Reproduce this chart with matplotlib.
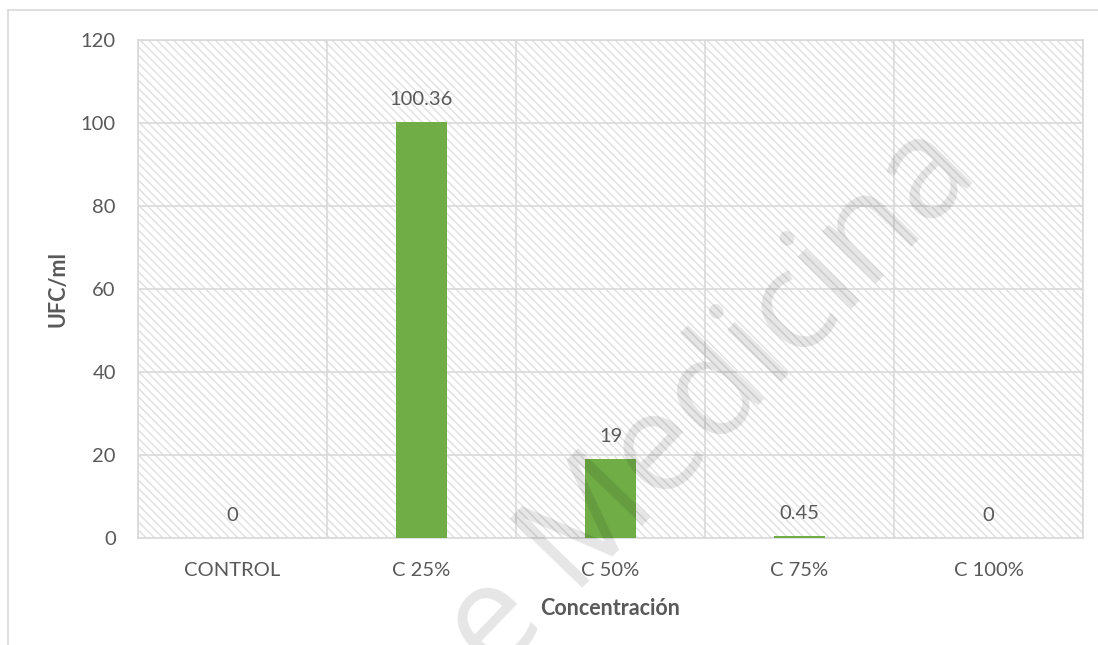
import matplotlib
matplotlib.use("Agg")
import matplotlib.pyplot as plt
from matplotlib.patches import Rectangle
from matplotlib.lines import Line2D

categories = ["CONTROL", "C 25%", "C 50%", "C 75%", "C 100%"]
values = [0, 100.36, 19, 0.45, 0]
value_labels = ["0", "100.36", "19", "0.45", "0"]
yticks = [0, 20, 40, 60, 80, 100, 120]

W, H = 1098, 645
fig = plt.figure(figsize=(W / 100, H / 100), dpi=100)
plt.rcParams['hatch.linewidth'] = 1.0
font = ['Lato', 'DejaVu Sans']
txt = '#595959'
grid = '#d9d9d9'
fs = 14.5

# outer chart border (partially cropped)
fig.add_artist(Line2D([8 / W, 1], [1 - 10 / H, 1 - 10 / H], color=grid, lw=1.2, transform=fig.transFigure))
fig.add_artist(Line2D([8 / W, 8 / W], [0, 1 - 10 / H], color=grid, lw=1.2, transform=fig.transFigure))

ax = fig.add_axes([138 / W, 1 - 538 / H, (1083 - 138) / W, (538 - 40) / H])
ax.add_patch(Rectangle((0, 0), 1, 1, transform=ax.transAxes, facecolor='white',
                       edgecolor='#e0e0e0', linewidth=0, hatch='\\\\\\\\', zorder=0))

x = range(len(categories))
ax.bar(x, values, width=0.27, color='#70ad47', zorder=3)
ax.set_xlim(-0.5, len(categories) - 0.5)
ax.set_ylim(0, 120)
ax.set_yticks(yticks)
ax.set_xticks(list(x))
ax.set_xticklabels(categories, family=font, fontsize=fs, color=txt)
ax.set_yticklabels([str(t) for t in yticks], family=font, fontsize=fs, color=txt)
ax.tick_params(axis='y', length=0, pad=16)
ax.tick_params(axis='x', length=0, pad=17)

for yv in yticks:
    ax.axhline(yv, color=grid, lw=1.2, zorder=1)
for b in range(len(categories) + 1):
    ax.axvline(b - 0.5, color=grid, lw=1.2, zorder=1)
for s in ax.spines.values():
    s.set_color(grid)
    s.set_linewidth(1.2)

for i, (v, lab) in enumerate(zip(values, value_labels)):
    ax.annotate(lab, (i, v), xytext=(0, 16), textcoords='offset points',
                ha='center', va='center', family=font, fontsize=fs, color=txt, zorder=4)

ax.set_ylabel('UFC/ml', family=font, fontsize=15.5, fontweight='bold', color=txt, labelpad=9)
ax.set_xlabel('Concentración', family=font, fontsize=15.5, fontweight='bold', color=txt, labelpad=14)

# watermark (partly cut off in the source document)
fig.text(712 / W, 1 - 402 / H, 'e Medicina', family=['Open Sans', 'DejaVu Sans'], fontsize=100,
         color='black', alpha=0.1, rotation=46, rotation_mode='anchor', ha='center', va='center', zorder=10)

fig.savefig('out.png', dpi=100)
